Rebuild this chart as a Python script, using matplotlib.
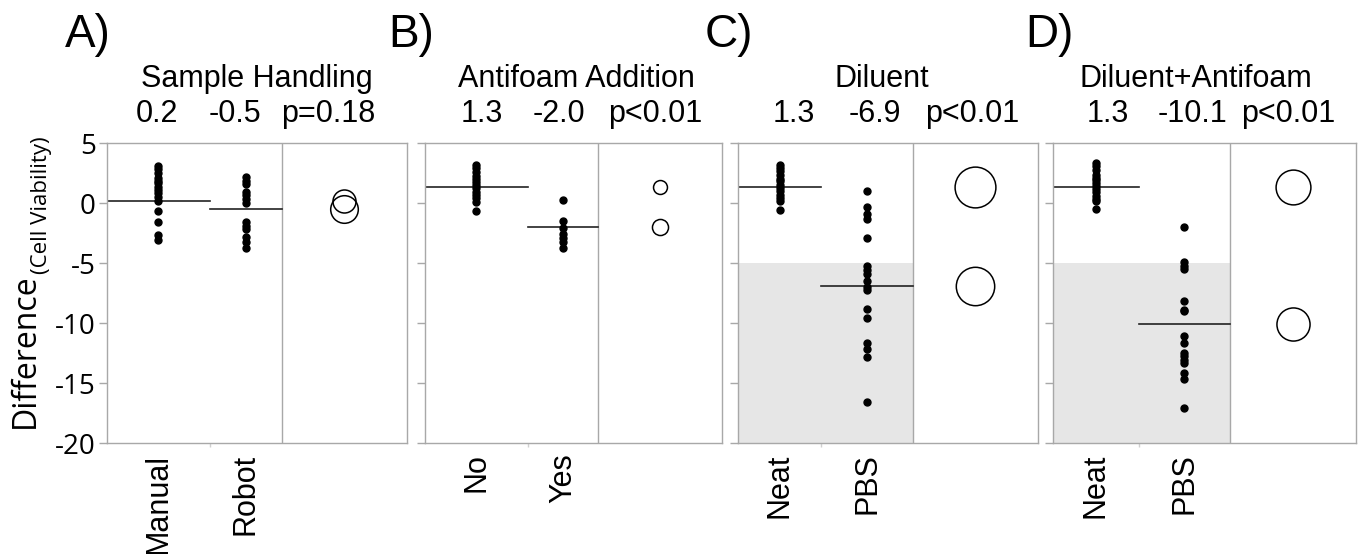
import numpy as np
import matplotlib.pyplot as plt
from matplotlib.transforms import blended_transform_factory

plt.rcParams['font.family'] = ['Liberation Sans', 'DejaVu Sans']

# values (Difference in cell viability)
panel_letters = ['A)', 'B)', 'C)', 'D)']
titles = ['Sample Handling', 'Antifoam Addition', 'Diluent', 'Diluent+Antifoam']
groups = [['Manual', 'Robot'], ['No', 'Yes'], ['Neat', 'PBS'], ['Neat', 'PBS']]
pvals = ['p=0.18', 'p<0.01', 'p<0.01', 'p<0.01']

a_manual = [3.08, 2.8, 2.47, 2.05, 1.86, 1.64, 1.36, 1.08, 0.8, 0.53, 0.2,
            -0.67, -1.55, -2.67, -3.08]
a_robot = [2.2, 1.86, 1.56, 0.94, 0.67, 0.3, 0.03, -1.55, -1.92, -2.19,
           -2.86, -3.22, -3.78]
b_no = [3.17, 2.89, 2.56, 2.22, 2.0, 1.78, 1.5, 1.22, 0.94, 0.67, 0.39,
        0.11, -0.64]
b_yes = [0.25, -1.47, -2.11, -2.58, -2.94, -3.22, -3.78]
c_neat = [3.19, 2.92, 2.64, 2.31, 2.03, 1.81, 1.53, 1.25, 0.97, 0.69, 0.42,
          0.14, -0.61]
c_pbs = [1.0, -0.33, -0.89, -1.31, -2.89, -5.25, -5.61, -5.89, -6.53, -7.0,
         -7.28, -8.81, -9.56, -11.64, -12.14, -12.83, -16.58]
d_neat = [3.33, 3.06, 2.78, 2.36, 2.08, 1.89, 1.67, 1.39, 1.17, 0.89, 0.61,
          0.33, 0.14, -0.5]
d_pbs = [-2.0, -4.95, -5.22, -5.5, -8.2, -8.89, -9.03, -11.06, -11.67, -12.5,
         -12.78, -13.06, -13.33, -14.17, -14.67, -17.08]

means = [[0.2, -0.5], [1.3, -2.0], [1.3, -6.9], [1.3, -10.1]]
# comparison circle radii (y units)
radii = [[0.96, 1.15], [0.58, 0.67], [1.7, 1.6], [1.45, 1.38]]
shaded = [False, False, True, True]

data = [[a_manual, a_robot], [b_no, b_yes], [c_neat, c_pbs], [d_neat, d_pbs]]

# layout (pixels of the 1359x554 canvas)
W, H = 1359, 554
panel_left = [107, 425, 738, 1053]
panel_width = [300, 297, 300, 303]
panel_top, panel_bottom = 143, 443
split = [0.343, 0.346, 0.278, 0.283]
divider = 0.583
letter_x = [65, 388, 705, 1025]
num_pos = [[0.167, 0.427, 0.737], [0.192, 0.451, 0.774],
           [0.187, 0.457, 0.78], [0.182, 0.459, 0.776]]
title_pos = [0.5, 0.51, 0.48, 0.472]

frame_col = '#a8a8a8'

fig = plt.figure(figsize=(W / 100, H / 100), dpi=100)

for i in range(4):
    ax = fig.add_axes([panel_left[i] / W, 1 - panel_bottom / H,
                       panel_width[i] / W, (panel_bottom - panel_top) / H])
    ax.set_xlim(0, 1)
    ax.set_ylim(-20, 5)
    for s in ax.spines.values():
        s.set_color(frame_col)
        s.set_linewidth(1)
    ax.set_yticks([5, 0, -5, -10, -15, -20])
    ax.set_xticks([split[i]])
    ax.set_xticklabels([])
    ax.tick_params(axis='y', direction='out', length=6, width=1,
                   color=frame_col, pad=2)
    ax.tick_params(axis='x', direction='out', length=3, width=1,
                   color='#d0d0d0')
    if i == 0:
        ax.set_yticklabels(['5', '0', '-5', '-10', '-15', '-20'],
                           family=['Open Sans', 'DejaVu Sans'], fontsize=20)
    else:
        ax.set_yticklabels([])

    ax.axvline(divider, color=frame_col, lw=1)
    if shaded[i]:
        ax.axhspan(-20, -5, xmin=0, xmax=divider, color='#e6e6e6', lw=0,
                   zorder=0)

    bounds = [0, split[i], divider]
    for g in range(2):
        xc = (bounds[g] + bounds[g + 1]) / 2
        vals = data[i][g]
        ax.plot([xc] * len(vals), vals, 'o', color='black', ms=5,
                zorder=3)
        ax.plot([bounds[g], bounds[g + 1]], [means[i][g], means[i][g]],
                color='#222222', lw=1.2, zorder=2)
        trans = blended_transform_factory(ax.transData, ax.transAxes)
        ax.text(xc, -0.035, groups[i][g], rotation=90, ha='center',
                va='top', fontsize=22, transform=trans)

    # comparison circles
    ppu = (ax.transData.transform((0, 1)) - ax.transData.transform((0, 0)))[1]
    cx = (divider + 1) / 2
    for g in range(2):
        ms = 2 * radii[i][g] * ppu * 72 / fig.dpi
        ax.plot(cx, means[i][g], 'o', mfc='none', mec='black', ms=ms,
                mew=1.1, zorder=3)

    # header text
    trans = blended_transform_factory(ax.transAxes, fig.transFigure)
    ax.text(title_pos[i], 1 - 87 / H, titles[i], ha='center', va='baseline',
            fontsize=22, transform=trans)
    labels = ['%.1f' % means[i][0], '%.1f' % means[i][1], pvals[i]]
    for k in range(3):
        ax.text(num_pos[i][k], 1 - 122 / H, labels[k], ha='center',
                va='baseline', fontsize=22, transform=trans)
    fig.text(letter_x[i] / W, 1 - 47 / H, panel_letters[i], ha='left',
             va='baseline', fontsize=33)

# y axis label with subscript
fig.text(34 / W, 1 - 428 / H, 'Difference', rotation=90,
         rotation_mode='anchor', ha='left', va='baseline', fontsize=23,
         family=['Open Sans', 'DejaVu Sans'])
fig.text(47 / W, 1 - 274 / H, '(Cell Viability)', rotation=90,
         rotation_mode='anchor', ha='left', va='baseline', fontsize=16,
         family=['Open Sans', 'DejaVu Sans'])

fig.savefig('out.png', dpi=100)
